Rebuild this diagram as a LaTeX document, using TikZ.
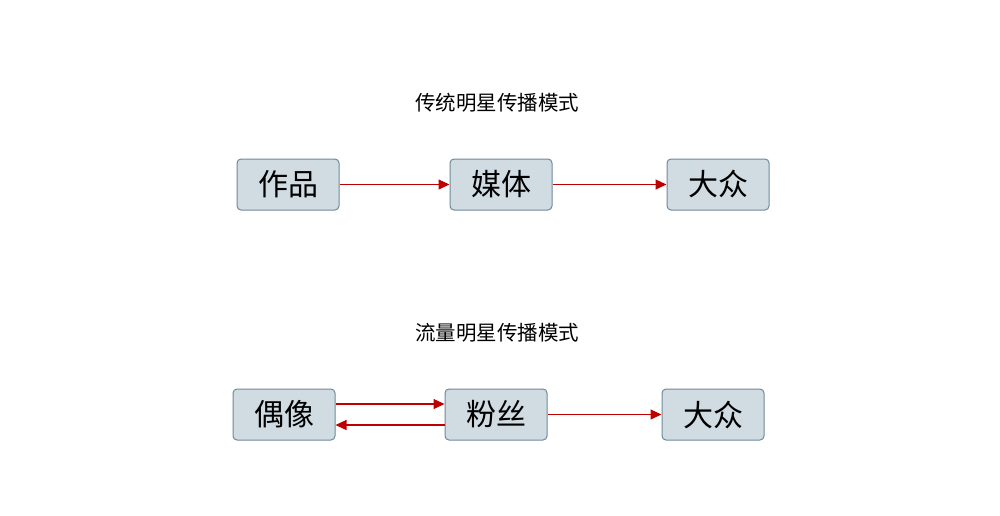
\documentclass[tikz,border=0pt]{standalone}
\usepackage{fontspec}
\newfontfamily\cjk{Noto Sans CJK SC}
\usetikzlibrary{arrows.meta}
\begin{document}
\begin{tikzpicture}[x=1pt,y=-1pt,
 box/.style={draw=boxline,fill=boxfill,rounded corners=4pt,line width=1pt,minimum width=102pt,minimum height=51pt,font=\cjk\fontsize{30}{32}\selectfont,inner sep=0pt},
 title/.style={font=\cjk\fontsize{20.5}{22}\selectfont},
 arr/.style={draw=arrred,line width=1.2pt,-{Triangle[length=11pt,width=10pt]}}]
\definecolor{boxfill}{HTML}{D0DCE2}
\definecolor{boxline}{HTML}{6E8A99}
\definecolor{arrred}{HTML}{C00000}
\useasboundingbox[fill=white] (0,0) rectangle (1000,515);
\node[title] (t1) at (497,103) {传统明星传播模式};
\node[box] (a1) at (288,184.5) {作品};
\node[box] (a2) at (501,184.5) {媒体};
\node[box] (a3) at (718,184.5) {大众};
\draw[arr] (a1) -- (a2);
\draw[arr] (a2) -- (a3);
\node[title] (t2) at (497,333) {流量明星传播模式};
\node[box] (b1) at (284,414.5) {偶像};
\node[box] (b2) at (496,414.5) {粉丝};
\node[box] (b3) at (713,414.5) {大众};
\draw[arr] ([yshift=10.5pt]b1.east) -- ([yshift=10.5pt]b2.west);
\draw[arr] ([yshift=-10.5pt]b2.west) -- ([yshift=-10.5pt]b1.east);
\draw[arr] (b2) -- (b3);
\end{tikzpicture}
\end{document}
